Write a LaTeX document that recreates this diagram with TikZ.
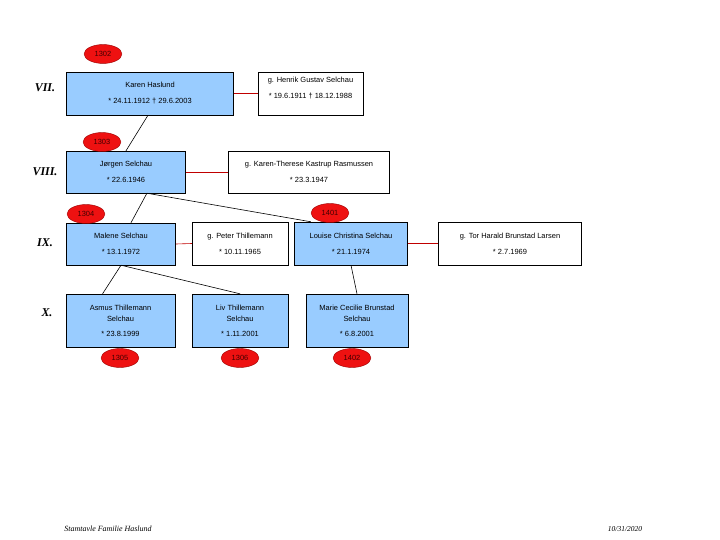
\documentclass[tikz,border=0pt]{standalone}
\usepackage{fontspec}
\setmainfont{Liberation Sans}
\newfontfamily\gradfont{Liberation Serif}
\usetikzlibrary{shapes.geometric}

\definecolor{kasse}{HTML}{99CCFF}
\definecolor{ovalrod}{HTML}{EE1111}
\definecolor{streg}{HTML}{C00000}

\begin{document}
\begin{tikzpicture}[x=1bp, y=-1bp,
	person/.style={draw, fill=kasse, line width=0.6pt, align=center, inner sep=0pt,
		font=\fontsize{7.5}{11}\selectfont},
	gift/.style={person, fill=white},
	nummer/.style={ellipse, draw=red!60!black, fill=ovalrod, inner sep=0pt,
		minimum width=38, minimum height=19, text=red!25!black,
		font=\fontsize{7.5}{8}\selectfont},
	grad/.style={font=\gradfont\bfseries\itshape\fontsize{12}{14}\selectfont},
	rodlinje/.style={streg, line width=0.6pt},
	linje/.style={black, line width=0.6pt}]
	\useasboundingbox (0,0) rectangle (720,540);
	
	% generation VII
	\node[grad] (g7) at (45,88) {VII.};
	\node[person, minimum width=168, minimum height=43] (karen) at (150,93.5)
		{Karen Haslund\\[5pt]* 24.11.1912 † 29.6.2003};
	\node[gift, minimum width=105, minimum height=43, text depth=12pt] (henrik) at (310.5,93.5)
		{g. Henrik Gustav Selchau\\[5pt]* 19.6.1911 † 18.12.1988};
	\node[nummer] (n1302) at (103,54) {1302};
	
	% generation VIII
	\node[grad] (g8) at (45,172) {VIII.};
	\node[person, minimum width=120, minimum height=42] (jorgen) at (126,172)
		{Jørgen Selchau\\[5pt]* 22.6.1946};
	\node[gift, minimum width=162, minimum height=42] (karenth) at (309,172)
		{g. Karen-Therese Kastrup Rasmussen\\[5pt]* 23.3.1947};
	\node[nummer] (n1303) at (102,142) {1303};
	
	% generation IX
	\node[grad] (g9) at (45,243) {IX.};
	\node[person, minimum width=110, minimum height=42] (malene) at (121,244)
		{Malene Selchau\\[5pt]* 13.1.1972};
	\node[gift, minimum width=96, minimum height=43] (peter) at (240,243.5)
		{g. Peter Thillemann\\[5pt]* 10.11.1965};
	\node[person, minimum width=114, minimum height=43] (louise) at (351,243.5)
		{Louise Christina Selchau\\[5pt]* 21.1.1974};
	\node[gift, minimum width=144, minimum height=43] (tor) at (510,243.5)
		{g. Tor Harald Brunstad Larsen\\[5pt]* 2.7.1969};
	\node[nummer] (n1304) at (86,214) {1304};
	\node[nummer] (n1401) at (330,213) {1401};
	
	% generation X
	\node[grad] (g10) at (47,313) {X.};
	\node[person, minimum width=109, minimum height=53] (asmus) at (120.5,320.5)
		{Asmus Thillemann\\Selchau\\[4pt]* 23.8.1999};
	\node[person, minimum width=96, minimum height=53] (liv) at (240,320.5)
		{Liv Thillemann\\Selchau\\[4pt]* 1.11.2001};
	\node[person, minimum width=102, minimum height=53] (marie) at (357,320.5)
		{Marie Cecilie Brunstad\\Selchau\\[4pt]* 6.8.2001};
	\node[nummer] (n1305) at (120,358) {1305};
	\node[nummer] (n1306) at (240,358) {1306};
	\node[nummer] (n1402) at (352,358) {1402};
	
	% aegteskaber
	\draw[rodlinje] (karen.east) -- (henrik.west);
	\draw[rodlinje] (jorgen.east) -- (karenth.west);
	\draw[rodlinje] (malene.east) -- (peter.west);
	\draw[rodlinje] (louise.east) -- (tor.west);
	
	% boern
	\draw[linje] ([xshift=-2]karen.south) -- (jorgen.north);
	\draw[linje] ([xshift=21]jorgen.south) -- ([xshift=10]malene.north);
	\draw[linje] ([xshift=21]jorgen.south) -- ([xshift=17]louise.north west);
	\draw[linje] (malene.south) -- ([xshift=-18]asmus.north);
	\draw[linje] (malene.south) -- (liv.north);
	\draw[linje] (louise.south) -- (marie.north);
	
	% bund
	\node[font=\gradfont\itshape\fontsize{8}{10}\selectfont] (titel) at (108,529) {Stamtavle Familie Haslund};
	\node[font=\gradfont\itshape\fontsize{7.5}{9}\selectfont] (dato) at (625,529) {10/31/2020};
\end{tikzpicture}
\end{document}
